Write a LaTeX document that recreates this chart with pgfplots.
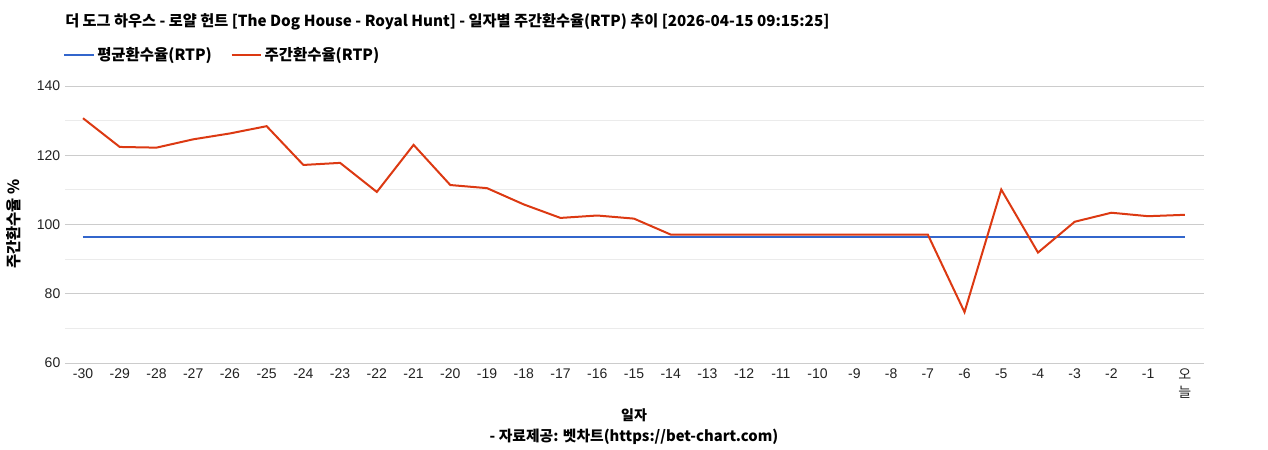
\documentclass[border=0pt]{standalone}
\usepackage{fontspec}
\usepackage{pgfplots}
\pgfplotsset{compat=1.18}
\setmainfont{Liberation Sans}
\newfontfamily\kr{Noto Sans CJK KR}
\definecolor{avgblue}{HTML}{3366CC}
\definecolor{rtpred}{HTML}{DC3912}
\definecolor{majgrid}{HTML}{CCCCCC}
\definecolor{mingrid}{HTML}{EBEBEB}
\definecolor{txt}{HTML}{222222}

\pgfplotstableread{
day rtp
-30 130.7
-29 122.4
-28 122.2
-27 124.6
-26 126.3
-25 128.4
-24 117.2
-23 117.8
-22 109.4
-21 123.0
-20 111.4
-19 110.5
-18 105.8
-17 101.9
-16 102.6
-15 101.7
-14 97.1
-13 97.1
-12 97.1
-11 97.1
-10 97.1
-9 97.1
-8 97.1
-7 97.1
-6 74.7
-5 110.1
-4 91.9
-3 100.8
-2 103.4
-1 102.4
0 102.8
}\weekly

\pgfplotstableread{
day rtp
-30 96.5
0 96.5
}\average

\begin{document}
\begin{tikzpicture}
\path[use as bounding box] (0,0) rectangle (951pt,337.5pt);
\begin{axis}[
  at={(48.75pt,65.25pt)}, anchor=south west,
  scale only axis,
  width=854.25pt, height=207.75pt,
  xmin=-30.49, xmax=0.52,
  ymin=60, ymax=140,
  axis line style={draw=none},
  major tick length=0pt, minor tick length=0pt,
  xtick={-30,...,0},
  xticklabels={-30,-29,-28,-27,-26,-25,-24,-23,-22,-21,-20,-19,-18,-17,-16,-15,-14,-13,-12,-11,-10,-9,-8,-7,-6,-5,-4,-3,-2,-1,{\kr 오\\\kr 늘}},
  xticklabel style={font=\fontsize{10.5pt}{13pt}\selectfont, text=txt, align=center, anchor=north, yshift=-1pt},
  ytick={60,80,...,140},
  minor ytick={70,90,...,130},
  yticklabel style={font=\fontsize{10.5pt}{12pt}\selectfont, text=txt},
  /pgf/number format/assume math mode=true,
  ymajorgrids, yminorgrids,
  major grid style={majgrid, line width=0.75pt},
  minor grid style={mingrid, line width=0.75pt},
  title={\kr\bfseries 더 도그 하우스 - 로얄 헌트 [The Dog House - Royal Hunt] - 일자별 주간환수율(RTP) 추이 [2026-04-15 09:15:25]},
  title style={at={(rel axis cs:0,1.2022)}, anchor=west, font=\fontsize{11.4pt}{13pt}\selectfont, text=black, inner sep=0pt},
  xlabel={\kr\bfseries 일자},
  xlabel style={at={(rel axis cs:0.4996,-0.1877)}, anchor=center, font=\fontsize{10.5pt}{12pt}\selectfont, text=black, inner sep=0pt},
  ylabel={\kr\bfseries 주간환수율 \%},
  ylabel style={at={(rel axis cs:-0.0448,0.5018)}, anchor=center, rotate=0, font=\fontsize{11.5pt}{12pt}\selectfont, text=black, inner sep=0pt},
  legend columns=2,
  legend style={at={(rel axis cs:0,1.112)}, anchor=west, xshift=-1.5pt, draw=none, fill=none, inner sep=0pt,
    font=\kr\bfseries\fontsize{11.6pt}{13pt}\selectfont,
    /tikz/every even column/.append style={column sep=12pt}},
  legend image code/.code={\draw[#1, line width=1.5pt] (0pt,0pt) -- (22pt,0pt);},
  clip=false,
]
\addplot[avgblue, line width=1.5pt] table[x=day, y=rtp] {\average};
\addlegendentry{평균환수율(RTP)}
\addplot[rtpred, line width=1.5pt] table[x=day, y=rtp] {\weekly};
\addlegendentry{주간환수율(RTP)}
\node[anchor=center, font=\kr\bfseries\fontsize{11.1pt}{12pt}\selectfont, inner sep=0pt] at (rel axis cs:0.4996,-0.267) {- 자료제공: 벳차트(https://bet-chart.com)};
\end{axis}
\end{tikzpicture}
\end{document}
